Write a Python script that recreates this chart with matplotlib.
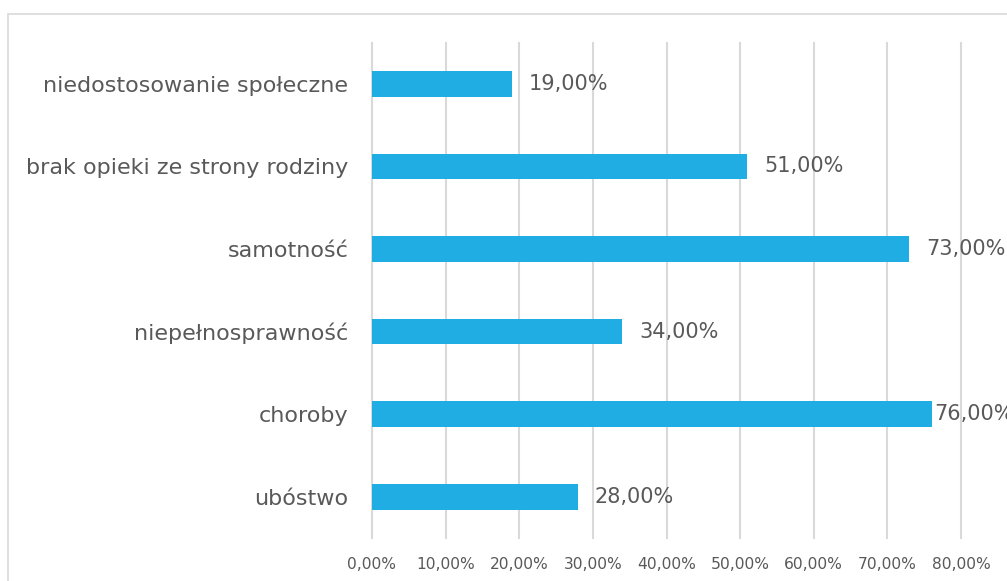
import matplotlib
matplotlib.use("Agg")
import matplotlib.pyplot as plt
from matplotlib.patches import Rectangle
from matplotlib.ticker import FuncFormatter

categories = ["ubóstwo", "choroby", "niepełnosprawność", "samotność",
              "brak opieki ze strony rodziny", "niedostosowanie społeczne"]
values = [28.0, 76.0, 34.0, 73.0, 51.0, 19.0]
xticks = [0, 10, 20, 30, 40, 50, 60, 70, 80]

W, H = 1007, 581
fig = plt.figure(figsize=(W / 100, H / 100), dpi=100)
fig.patch.set_facecolor("white")
fig.patches.append(Rectangle((8 / W, -0.1), 1.2, 1 - 14 / H + 0.1,
                             transform=fig.transFigure, fill=False,
                             edgecolor="#D9D9D9", linewidth=1.2))

ax = fig.add_axes([372 / W, 1 - 538 / H, (961 - 372) / W, (538 - 42.5) / H])
font = "DejaVu Sans"
txtcol = "#595959"

y = range(len(categories))
ax.barh(y, values, height=0.31, color="#1FADE4", zorder=3)
ax.set_xlim(0, 80)
ax.set_ylim(-0.5, len(categories) - 0.5)
ax.set_xticks(xticks)
ax.xaxis.set_major_formatter(FuncFormatter(lambda v, p: f"{v:.2f}%".replace(".", ",")))
ax.set_yticks(list(y))
ax.set_yticklabels(categories, fontsize=16, color=txtcol, family=font)
for lab in ax.get_xticklabels():
    lab.set_fontsize(11.2)
    lab.set_color(txtcol)
    lab.set_family(font)
ax.tick_params(axis="both", length=0)
ax.tick_params(axis="y", pad=17)
ax.tick_params(axis="x", pad=14)
ax.grid(axis="x", color="#D9D9D9", linewidth=1.5, zorder=0)
for gl in ax.get_xgridlines():
    gl.set_clip_on(False)
for s in ax.spines.values():
    s.set_visible(False)

for yi, v in zip(y, values):
    off = 2 if v > 75 else 12
    ax.annotate(f"{v:.2f}%".replace(".", ","), (v, yi), xytext=(off, 0),
                textcoords="offset points", va="center", ha="left",
                fontsize=15, color=txtcol, family=font, annotation_clip=False)

fig.savefig("out.png", dpi=100)
